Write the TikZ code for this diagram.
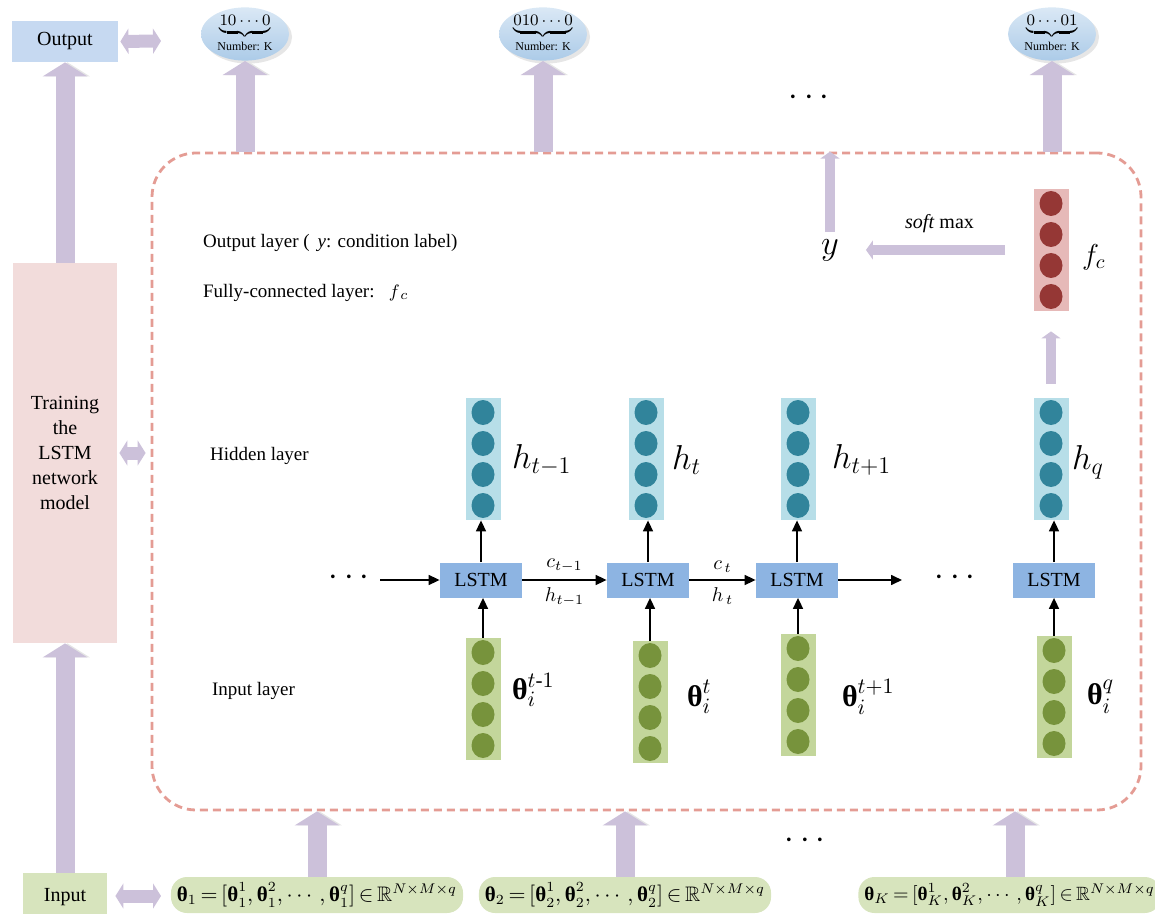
\documentclass[tikz,border=0pt]{standalone}
\usepackage{amsmath,amssymb}
\usepackage{fontspec}
\setmainfont{Liberation Serif}
\usepackage{tikz}
\usetikzlibrary{arrows.meta,positioning,calc,shapes.geometric,shadows}
\definecolor{lav}{RGB}{204,193,218}
\definecolor{outblue}{RGB}{198,217,241}
\definecolor{trainpink}{RGB}{242,220,219}
\definecolor{ingreen}{RGB}{215,228,189}
\definecolor{lstmblue}{RGB}{141,180,226}
\definecolor{hidblue}{RGB}{183,222,232}
\definecolor{hiddot}{RGB}{49,132,155}
\definecolor{colgreen}{RGB}{195,214,155}
\definecolor{indot}{RGB}{119,147,60}
\definecolor{fcpink}{RGB}{230,185,184}
\definecolor{fcdot}{RGB}{149,55,53}
\definecolor{dashred}{RGB}{228,156,148}
\definecolor{ovaltop}{RGB}{218,232,245}
\definecolor{ovalbot}{RGB}{172,203,232}

\newcommand{\btheta}{\text{\normalfont\bfseries θ}}
\newcommand{\tightrel}{\thickmuskip=3mu\relax}
% one layer column: name, position, column colour, unit colour
\newcommand{\neurons}[4]{%
  \node[colbox, fill=#3] (#1) at #2 {};
  \foreach \k in {-1.5,-0.5,0.5,1.5}
    \fill[#4] ($(#1.center)+(0,31*\k)$) circle [x radius=11.5, y radius=12.5];
}

\begin{document}
\begin{tikzpicture}[x=0.5pt,y=-0.5pt,
    lavarrow/.style={draw=lav, line width=9.5pt, -{Triangle[width=22pt,length=7pt]},
        preaction={draw=black!10, transform canvas={xshift=1.3pt}}},
    thinlav/.style={draw=lav, line width=5pt, -{Triangle[width=9.5pt,length=3.5pt]}},
    duallav/.style={draw=lav, line width=6.5pt,
        {Triangle[width=12.5pt,length=4pt]}-{Triangle[width=12.5pt,length=4pt]}},
    flow/.style={draw=black, line width=0.8pt, -{Triangle[width=5pt,length=5.5pt]}},
    sidebox/.style={rectangle, minimum width=53pt, inner sep=0pt, align=center,
        font=\fontsize{10}{12.5}\selectfont},
    lstmbox/.style={rectangle, fill=lstmblue, minimum width=41pt, minimum height=17.5pt,
        inner sep=0pt, font=\fontsize{10}{12}\selectfont},
    colbox/.style={rectangle, minimum width=17.5pt, minimum height=61pt, inner sep=0pt},
    onehot/.style={ellipse, minimum width=44pt, minimum height=26pt, inner sep=0pt,
        top color=ovaltop, bottom color=ovalbot,
        drop shadow={shadow xshift=1.5pt, shadow yshift=-1.5pt, opacity=0.2},
        font=\fontsize{8}{9}\selectfont},
    pill/.style={rectangle, rounded corners=8pt, fill=ingreen, minimum width=145pt,
        minimum height=18pt, inner xsep=3pt, inner ysep=0pt,
        font=\fontsize{10.5}{12}\selectfont\tightrel},
    netbox/.style={draw=dashred, line width=1.4pt, dash pattern=on 4pt off 2.5pt,
        rounded corners=22pt},
    layertext/.style={anchor=west, font=\fontsize{9.5}{11}\selectfont},
    hlabel/.style={font=\fontsize{17}{20}\selectfont},
    tlabel/.style={anchor=west, font=\fontsize{15}{18}\selectfont},
    dots/.style={font=\fontsize{18}{20}\selectfont}]
\useasboundingbox (0,0) rectangle (1155,914);
\clip (0,0) rectangle (1155,914);

% training flow on the left
\node[sidebox, fill=outblue, minimum height=20.5pt] (out) at (65,41.5) {Output};
\node[sidebox, fill=trainpink, minimum width=52pt, minimum height=190pt] (train) at (65,453) {Training\\the\\LSTM\\network\\model};
\node[sidebox, fill=ingreen, minimum width=42pt, minimum height=24pt] (inp) at (65,897) {Input};
\draw[lavarrow] (inp.north) -- (train.south);
\draw[lavarrow] (train.north) -- (out.south);

% network frame
\node[netbox, minimum width=494.5pt, minimum height=328.5pt] (net) at (646.5,481.5) {};
\coordinate (outR) at (161,41);
\coordinate (inR) at (161,896);
\draw[duallav, shorten <=1pt] (out.east) -- (outR);
\draw[duallav, shorten <=1pt, shorten >=2.5pt] (train.east) -- (net.west |- train.east);
\draw[duallav, shorten <=4pt] (inp.east |- inR) -- (inR);

% one-hot outputs
\node[onehot] (o1) at (245,34) {$\underbrace{10\cdots0}_{\text{Number: K}}$};
\node[onehot] (o2) at (543,34) {$\underbrace{010\cdots0}_{\text{Number: K}}$};
\node[onehot] (o3) at (1052,34) {$\underbrace{0\cdots01}_{\text{Number: K}}$};
\foreach \nm in {o1,o2,o3}
  \draw[lavarrow] (net.north -| \nm) -- (\nm.south);
\node[dots] (topdots) at (812,98) {$\cdots$};

% input sequences
\node[pill] (p1) at (317,895) {$\btheta_1=[\btheta_1^1,\btheta_1^2,\cdots,\btheta_1^q]\in\mathbb{R}^{N\times M\times q}$};
\node[pill] (p2) at (625,895) {$\btheta_2=[\btheta_2^1,\btheta_2^2,\cdots,\btheta_2^q]\in\mathbb{R}^{N\times M\times q}$};
\node[pill, anchor=west, font=\fontsize{9.6}{12}\selectfont\tightrel] (p3) at (858,895) {$\btheta_K=[\btheta_K^1,\btheta_K^2,\cdots,\btheta_K^q]\in\mathbb{R}^{N\times M\times q}$};
\draw[lavarrow] (p1.north) -- (net.south -| p1);
\draw[lavarrow] (p2.north) -- (net.south -| p2);
\draw[lavarrow] (p3.north -| 1015,0) -- (net.south -| 1015,0);
\node[dots] (botdots) at (808,841) {$\cdots$};

% layer names
\node[layertext] (outtxt) at (196,243) {Output layer (\ \,\textit{y}: condition label)};
\node[layertext] (fctxt) at (196,293) {Fully-connected layer:\ \ \ $f_{\,c}$};
\node[layertext] (hidtxt) at (203,456) {Hidden layer};
\node[layertext] (intxt) at (205,691) {Input layer};

% columns of units
\neurons{fc}{(1051,250)}{fcpink}{fcdot}
\neurons{h1}{(483,459)}{hidblue}{hiddot}
\neurons{h2}{(646,459)}{hidblue}{hiddot}
\neurons{h3}{(798,459)}{hidblue}{hiddot}
\neurons{h4}{(1051,459)}{hidblue}{hiddot}
\neurons{x1}{(483,699)}{colgreen}{indot}
\neurons{x2}{(650,702)}{colgreen}{indot}
\neurons{x3}{(798,695)}{colgreen}{indot}
\neurons{x4}{(1054,697)}{colgreen}{indot}

% LSTM cells
\node[lstmbox] (l1) at (481,580) {LSTM};
\node[lstmbox] (l2) at (648,580) {LSTM};
\node[lstmbox] (l3) at (797,580) {LSTM};
\node[lstmbox] (l4) at (1054,580) {LSTM};
\foreach \i in {1,...,4} {
  \draw[flow] (x\i.north) -- (x\i.north |- l\i.south);
  \draw[flow] (l\i.north) -- (l\i.north |- h\i.south);
}
\node[dots] (ldots) at (352,578) {$\cdots$};
\node[dots] (rdots) at (958,578) {$\cdots$};
\coordinate (lin) at (380,580);
\coordinate (lout) at (902,580);
\draw[flow] (lin) -- (l1);
\draw[flow] (l1) -- node[above, font=\fontsize{10}{12}\selectfont] {$c_{t-1}$}
                   node[below, font=\fontsize{10}{12}\selectfont] {$h_{t-1}$} (l2);
\draw[flow] (l2) -- node[above, font=\fontsize{10}{12}\selectfont] {$c_{\,t}$}
                   node[below, font=\fontsize{10}{12}\selectfont] {$h_{\,t}$} (l3);
\draw[flow] (l3) -- (lout);

% hidden and input labels
\node[hlabel, anchor=west] (hl1) at (505,460) {$h_{t-1}$};
\node[hlabel, anchor=west] (hl2) at (665,460) {$h_{t}$};
\node[hlabel, anchor=west] (hl3) at (825,460) {$h_{t+1}$};
\node[hlabel, anchor=west] (hl4) at (1065,462) {$h_{q}$};
\node[tlabel] (tl1) at (505,690) {$\btheta_i^{t\text{-}1}$};
\node[tlabel] (tl2) at (680,697) {$\btheta_i^{t}$};
\node[tlabel] (tl3) at (835,697) {$\btheta_i^{t+1}$};
\node[tlabel] (tl4) at (1080,697) {$\btheta_i^{q}$};

% classifier on top
\node[hlabel] (ylab) at (830,250) {$y$};
\node[anchor=west, font=\fontsize{14}{16}\selectfont] (fcl) at (1075,257) {$f_c$};
\draw[thinlav, shorten <=7pt, shorten >=10pt] (h4.north) -- (fc.south);
\draw[thinlav, shorten <=14pt, shorten >=10pt] (fc.west) --
    node[above=3pt, font=\fontsize{10}{12}\selectfont] {\textit{soft} max} (ylab.east);
\draw[thinlav] (ylab.north) -- (ylab.north |- net.north);
\end{tikzpicture}
\end{document}
